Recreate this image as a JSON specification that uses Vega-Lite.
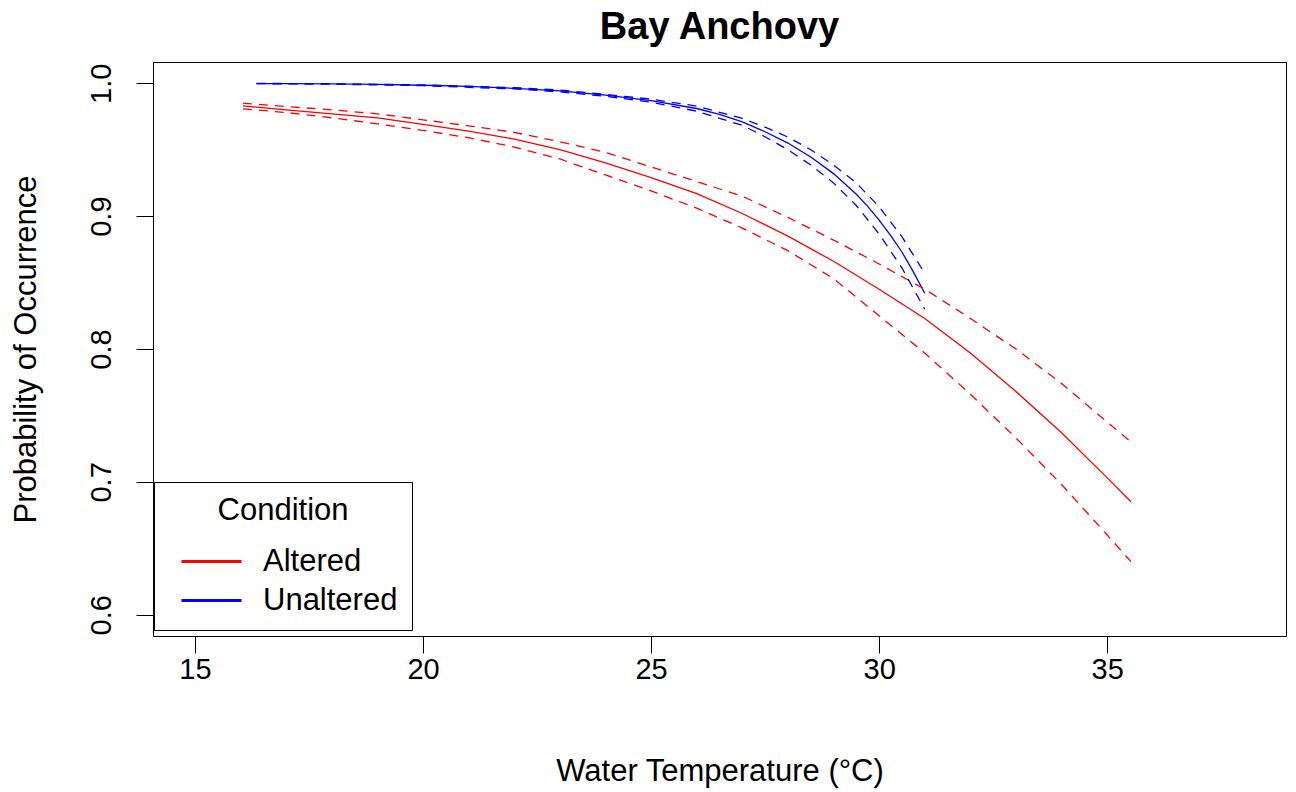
{
  "$schema": "https://vega.github.io/schema/vega-lite/v6.json",
  "width": 1133,
  "height": 574,
  "autosize": {"type": "none"},
  "padding": {"left": 153, "top": 62, "right": 10, "bottom": 156},
  "background": "white",
  "title": {
    "text": "Bay Anchovy",
    "font": "Liberation Sans",
    "fontSize": 38,
    "fontWeight": "bold",
    "color": "black",
    "anchor": "middle",
    "frame": "group",
    "baseline": "alphabetic",
    "offset": -15
  },
  "config": {
    "font": "Liberation Sans",
    "view": {"stroke": "black", "strokeWidth": 1},
    "axis": {
      "grid": false,
      "domain": false,
      "tickSize": 17,
      "tickColor": "black",
      "tickWidth": 1,
      "labelFont": "Liberation Sans",
      "labelFontSize": 29,
      "labelColor": "black",
      "titleFont": "Liberation Sans",
      "titleFontSize": 31,
      "titleFontWeight": "normal",
      "titleColor": "black"
    }
  },
  "data": {
    "values": [
      {"Condition": "Altered", "curve": "fit", "temp": 16.05, "prob": 0.983},
      {"Condition": "Altered", "curve": "fit", "temp": 17, "prob": 0.980},
      {"Condition": "Altered", "curve": "fit", "temp": 18, "prob": 0.977},
      {"Condition": "Altered", "curve": "fit", "temp": 19, "prob": 0.974},
      {"Condition": "Altered", "curve": "fit", "temp": 20, "prob": 0.969},
      {"Condition": "Altered", "curve": "fit", "temp": 21, "prob": 0.964},
      {"Condition": "Altered", "curve": "fit", "temp": 22, "prob": 0.958},
      {"Condition": "Altered", "curve": "fit", "temp": 23, "prob": 0.950},
      {"Condition": "Altered", "curve": "fit", "temp": 24, "prob": 0.940},
      {"Condition": "Altered", "curve": "fit", "temp": 25, "prob": 0.929},
      {"Condition": "Altered", "curve": "fit", "temp": 26, "prob": 0.917},
      {"Condition": "Altered", "curve": "fit", "temp": 27, "prob": 0.902},
      {"Condition": "Altered", "curve": "fit", "temp": 28, "prob": 0.885},
      {"Condition": "Altered", "curve": "fit", "temp": 29, "prob": 0.866},
      {"Condition": "Altered", "curve": "fit", "temp": 30, "prob": 0.845},
      {"Condition": "Altered", "curve": "fit", "temp": 31, "prob": 0.823},
      {"Condition": "Altered", "curve": "fit", "temp": 32, "prob": 0.797},
      {"Condition": "Altered", "curve": "fit", "temp": 33, "prob": 0.768},
      {"Condition": "Altered", "curve": "fit", "temp": 34, "prob": 0.737},
      {"Condition": "Altered", "curve": "fit", "temp": 35, "prob": 0.703},
      {"Condition": "Altered", "curve": "fit", "temp": 35.52, "prob": 0.685},

      {"Condition": "Altered", "curve": "upper", "temp": 16.05, "prob": 0.985},
      {"Condition": "Altered", "curve": "upper", "temp": 17, "prob": 0.9825},
      {"Condition": "Altered", "curve": "upper", "temp": 18, "prob": 0.980},
      {"Condition": "Altered", "curve": "upper", "temp": 19, "prob": 0.977},
      {"Condition": "Altered", "curve": "upper", "temp": 20, "prob": 0.9725},
      {"Condition": "Altered", "curve": "upper", "temp": 21, "prob": 0.968},
      {"Condition": "Altered", "curve": "upper", "temp": 22, "prob": 0.963},
      {"Condition": "Altered", "curve": "upper", "temp": 23, "prob": 0.956},
      {"Condition": "Altered", "curve": "upper", "temp": 24, "prob": 0.948},
      {"Condition": "Altered", "curve": "upper", "temp": 25, "prob": 0.937},
      {"Condition": "Altered", "curve": "upper", "temp": 26, "prob": 0.926},
      {"Condition": "Altered", "curve": "upper", "temp": 27, "prob": 0.915},
      {"Condition": "Altered", "curve": "upper", "temp": 28, "prob": 0.899},
      {"Condition": "Altered", "curve": "upper", "temp": 29, "prob": 0.882},
      {"Condition": "Altered", "curve": "upper", "temp": 30, "prob": 0.864},
      {"Condition": "Altered", "curve": "upper", "temp": 31, "prob": 0.845},
      {"Condition": "Altered", "curve": "upper", "temp": 32, "prob": 0.823},
      {"Condition": "Altered", "curve": "upper", "temp": 33, "prob": 0.800},
      {"Condition": "Altered", "curve": "upper", "temp": 34, "prob": 0.774},
      {"Condition": "Altered", "curve": "upper", "temp": 35, "prob": 0.745},
      {"Condition": "Altered", "curve": "upper", "temp": 35.52, "prob": 0.730},

      {"Condition": "Altered", "curve": "lower", "temp": 16.05, "prob": 0.9807},
      {"Condition": "Altered", "curve": "lower", "temp": 17, "prob": 0.978},
      {"Condition": "Altered", "curve": "lower", "temp": 18, "prob": 0.974},
      {"Condition": "Altered", "curve": "lower", "temp": 19, "prob": 0.9695},
      {"Condition": "Altered", "curve": "lower", "temp": 20, "prob": 0.9645},
      {"Condition": "Altered", "curve": "lower", "temp": 21, "prob": 0.959},
      {"Condition": "Altered", "curve": "lower", "temp": 22, "prob": 0.952},
      {"Condition": "Altered", "curve": "lower", "temp": 23, "prob": 0.943},
      {"Condition": "Altered", "curve": "lower", "temp": 24, "prob": 0.931},
      {"Condition": "Altered", "curve": "lower", "temp": 25, "prob": 0.919},
      {"Condition": "Altered", "curve": "lower", "temp": 26, "prob": 0.906},
      {"Condition": "Altered", "curve": "lower", "temp": 27, "prob": 0.891},
      {"Condition": "Altered", "curve": "lower", "temp": 28, "prob": 0.874},
      {"Condition": "Altered", "curve": "lower", "temp": 29, "prob": 0.853},
      {"Condition": "Altered", "curve": "lower", "temp": 30, "prob": 0.825},
      {"Condition": "Altered", "curve": "lower", "temp": 31, "prob": 0.797},
      {"Condition": "Altered", "curve": "lower", "temp": 32, "prob": 0.766},
      {"Condition": "Altered", "curve": "lower", "temp": 33, "prob": 0.733},
      {"Condition": "Altered", "curve": "lower", "temp": 34, "prob": 0.698},
      {"Condition": "Altered", "curve": "lower", "temp": 35, "prob": 0.660},
      {"Condition": "Altered", "curve": "lower", "temp": 35.52, "prob": 0.640},

      {"Condition": "Unaltered", "curve": "fit", "temp": 16.35, "prob": 0.9998},
      {"Condition": "Unaltered", "curve": "fit", "temp": 17, "prob": 0.9997},
      {"Condition": "Unaltered", "curve": "fit", "temp": 18, "prob": 0.9995},
      {"Condition": "Unaltered", "curve": "fit", "temp": 19, "prob": 0.9991},
      {"Condition": "Unaltered", "curve": "fit", "temp": 20, "prob": 0.9985},
      {"Condition": "Unaltered", "curve": "fit", "temp": 21, "prob": 0.9976},
      {"Condition": "Unaltered", "curve": "fit", "temp": 22, "prob": 0.9962},
      {"Condition": "Unaltered", "curve": "fit", "temp": 23, "prob": 0.9942},
      {"Condition": "Unaltered", "curve": "fit", "temp": 24, "prob": 0.991},
      {"Condition": "Unaltered", "curve": "fit", "temp": 25, "prob": 0.987},
      {"Condition": "Unaltered", "curve": "fit", "temp": 26, "prob": 0.981},
      {"Condition": "Unaltered", "curve": "fit", "temp": 26.5, "prob": 0.9765},
      {"Condition": "Unaltered", "curve": "fit", "temp": 27, "prob": 0.971},
      {"Condition": "Unaltered", "curve": "fit", "temp": 27.5, "prob": 0.9635},
      {"Condition": "Unaltered", "curve": "fit", "temp": 28, "prob": 0.955},
      {"Condition": "Unaltered", "curve": "fit", "temp": 28.5, "prob": 0.9445},
      {"Condition": "Unaltered", "curve": "fit", "temp": 29, "prob": 0.932},
      {"Condition": "Unaltered", "curve": "fit", "temp": 29.5, "prob": 0.9165},
      {"Condition": "Unaltered", "curve": "fit", "temp": 29.75, "prob": 0.9073},
      {"Condition": "Unaltered", "curve": "fit", "temp": 30, "prob": 0.897},
      {"Condition": "Unaltered", "curve": "fit", "temp": 30.25, "prob": 0.8855},
      {"Condition": "Unaltered", "curve": "fit", "temp": 30.5, "prob": 0.873},
      {"Condition": "Unaltered", "curve": "fit", "temp": 30.75, "prob": 0.858},
      {"Condition": "Unaltered", "curve": "fit", "temp": 31, "prob": 0.842},

      {"Condition": "Unaltered", "curve": "upper", "temp": 16.35, "prob": 0.9999},
      {"Condition": "Unaltered", "curve": "upper", "temp": 18, "prob": 0.9996},
      {"Condition": "Unaltered", "curve": "upper", "temp": 20, "prob": 0.9988},
      {"Condition": "Unaltered", "curve": "upper", "temp": 22, "prob": 0.9967},
      {"Condition": "Unaltered", "curve": "upper", "temp": 23, "prob": 0.9949},
      {"Condition": "Unaltered", "curve": "upper", "temp": 24, "prob": 0.9917},
      {"Condition": "Unaltered", "curve": "upper", "temp": 25, "prob": 0.988},
      {"Condition": "Unaltered", "curve": "upper", "temp": 26, "prob": 0.9828},
      {"Condition": "Unaltered", "curve": "upper", "temp": 27, "prob": 0.9735},
      {"Condition": "Unaltered", "curve": "upper", "temp": 27.5, "prob": 0.967},
      {"Condition": "Unaltered", "curve": "upper", "temp": 28, "prob": 0.9595},
      {"Condition": "Unaltered", "curve": "upper", "temp": 28.5, "prob": 0.950},
      {"Condition": "Unaltered", "curve": "upper", "temp": 29, "prob": 0.9385},
      {"Condition": "Unaltered", "curve": "upper", "temp": 29.5, "prob": 0.925},
      {"Condition": "Unaltered", "curve": "upper", "temp": 30, "prob": 0.907},
      {"Condition": "Unaltered", "curve": "upper", "temp": 30.5, "prob": 0.8845},
      {"Condition": "Unaltered", "curve": "upper", "temp": 31, "prob": 0.857},

      {"Condition": "Unaltered", "curve": "lower", "temp": 16.35, "prob": 0.9997},
      {"Condition": "Unaltered", "curve": "lower", "temp": 18, "prob": 0.9993},
      {"Condition": "Unaltered", "curve": "lower", "temp": 20, "prob": 0.9982},
      {"Condition": "Unaltered", "curve": "lower", "temp": 22, "prob": 0.9957},
      {"Condition": "Unaltered", "curve": "lower", "temp": 23, "prob": 0.9935},
      {"Condition": "Unaltered", "curve": "lower", "temp": 24, "prob": 0.9902},
      {"Condition": "Unaltered", "curve": "lower", "temp": 25, "prob": 0.9858},
      {"Condition": "Unaltered", "curve": "lower", "temp": 26, "prob": 0.979},
      {"Condition": "Unaltered", "curve": "lower", "temp": 27, "prob": 0.9683},
      {"Condition": "Unaltered", "curve": "lower", "temp": 27.5, "prob": 0.9597},
      {"Condition": "Unaltered", "curve": "lower", "temp": 28, "prob": 0.950},
      {"Condition": "Unaltered", "curve": "lower", "temp": 28.5, "prob": 0.9385},
      {"Condition": "Unaltered", "curve": "lower", "temp": 29, "prob": 0.925},
      {"Condition": "Unaltered", "curve": "lower", "temp": 29.5, "prob": 0.908},
      {"Condition": "Unaltered", "curve": "lower", "temp": 30, "prob": 0.8865},
      {"Condition": "Unaltered", "curve": "lower", "temp": 30.5, "prob": 0.861},
      {"Condition": "Unaltered", "curve": "lower", "temp": 31, "prob": 0.830}
    ]
  },
  "encoding": {
    "x": {
      "field": "temp",
      "type": "quantitative",
      "scale": {"domain": [14.08, 38.92], "nice": false, "zero": false},
      "axis": {
        "values": [15, 20, 25, 30, 35],
        "title": "Water Temperature (°C)",
        "labelPadding": 2,
        "titleY": 144,
        "titleBaseline": "alphabetic"
      }
    },
    "y": {
      "field": "prob",
      "type": "quantitative",
      "scale": {"domain": [0.584, 1.016], "nice": false, "zero": false},
      "axis": {
        "values": [0.6, 0.7, 0.8, 0.9, 1.0],
        "format": ".1f",
        "title": "Probability of Occurrence",
        "labelAngle": 270,
        "labelAlign": "center",
        "labelBaseline": "alphabetic",
        "labelPadding": 26,
        "titleAngle": 270,
        "titleX": -118,
        "titleBaseline": "alphabetic"
      }
    },
    "color": {
      "field": "Condition",
      "type": "nominal",
      "scale": {"domain": ["Altered", "Unaltered"], "range": ["#ff0000", "#0000ff"]}
    }
  },
  "layer": [
    {
      "transform": [{"filter": "datum.curve === 'fit'"}],
      "mark": {"type": "line", "strokeWidth": 1.3},
      "encoding": {
        "color": {
          "field": "Condition",
          "type": "nominal",
          "scale": {"domain": ["Altered", "Unaltered"], "range": ["#ff0000", "#0000ff"]},
          "legend": {
            "title": "Condition",
            "orient": "none",
            "legendX": 1,
            "legendY": 420,
            "padding": 14,
            "fillColor": "white",
            "strokeColor": "black",
            "titleFont": "Liberation Sans",
            "titleFontSize": 31,
            "titleFontWeight": "normal",
            "titleColor": "black",
            "titleAnchor": "middle",
            "titleAlign": "center",
            "titlePadding": 18,
            "labelFont": "Liberation Sans",
            "labelFontSize": 31,
            "labelColor": "black",
            "symbolType": "M-2,0H2",
            "symbolSize": 900,
            "symbolStrokeWidth": 3,
            "symbolDash": [],
            "symbolOffset": 27,
            "labelOffset": 35,
            "rowPadding": 7
          }
        }
      }
    },
    {
      "transform": [{"filter": "datum.curve !== 'fit'"}],
      "mark": {"type": "line", "strokeWidth": 1.3, "strokeDash": [9, 7]},
      "encoding": {
        "detail": {"field": "curve", "type": "nominal"}
      }
    }
  ]
}
